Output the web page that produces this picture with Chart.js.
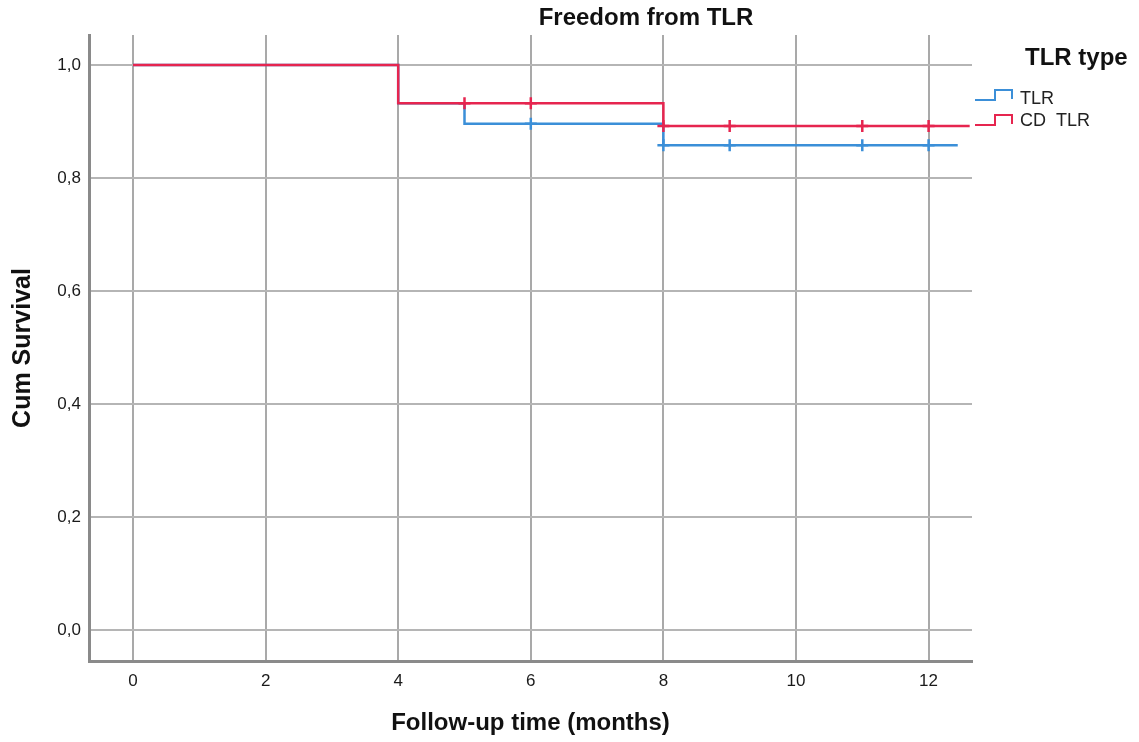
<!DOCTYPE html>
<html>
<head>
<meta charset="utf-8">
<script src="https://cdn.jsdelivr.net/npm/chart.js@4.4.1/dist/chart.umd.min.js"></script>
<style>
html,body{margin:0;padding:0;background:#fff;}
#wrap{width:1139px;height:742px;position:relative;}
</style>
</head>
<body>
<div id="wrap"><canvas id="c" width="1139" height="742"></canvas></div>
<script>
const chartTitle = "Freedom from TLR";
const xTitle = "Follow-up time (months)";
const yTitle = "Cum Survival";
const legendTitle = "TLR type";
const seriesNames = ["TLR", "CD  TLR"];
const xTicks = [0, 2, 4, 6, 8, 10, 12];
const yTicks = [0, 0.2, 0.4, 0.6, 0.8, 1.0];

const tlrTime = [0, 4, 5, 8, 12.44];
const tlrSurv = [1.0, 0.932, 0.896, 0.858, 0.858];
const tlrCensorTime = [6, 8, 9, 11, 12];
const tlrCensorSurv = [0.896, 0.858, 0.858, 0.858, 0.858];

const cdTime = [0, 4, 8, 12.62];
const cdSurv = [1.0, 0.932, 0.892, 0.892];
const cdCensorTime = [5, 6, 8, 9, 11, 12];
const cdCensorSurv = [0.932, 0.932, 0.892, 0.892, 0.892, 0.892];

const blue = "#3b8fd8";
const red = "#e6254f";
const fam = '"Liberation Sans", Arial, sans-serif';

function pts(xs, ys) { return xs.map((x, i) => ({x: x, y: ys[i]})); }

const overlay = {
  id: 'overlay',
  afterDraw(chart) {
    const ctx = chart.ctx;
    ctx.save();
    ctx.fillStyle = '#111';
    ctx.textBaseline = 'middle';
    ctx.textAlign = 'center';
    ctx.font = 'bold 24px ' + fam;
    ctx.fillText(chartTitle, 646, 18);
    ctx.textAlign = 'left';
    ctx.textBaseline = 'alphabetic';
    ctx.fillText(legendTitle, 1025, 65);
    ctx.font = '18px ' + fam;
    ctx.fillStyle = '#222';
    ctx.fillText(seriesNames[0], 1020, 104);
    ctx.fillText(seriesNames[1], 1020, 126);
    ctx.lineWidth = 2;
    ctx.strokeStyle = blue;
    ctx.beginPath();
    ctx.moveTo(975, 100); ctx.lineTo(995, 100); ctx.lineTo(995, 90); ctx.lineTo(1012, 90); ctx.lineTo(1012, 99);
    ctx.stroke();
    ctx.strokeStyle = red;
    ctx.beginPath();
    ctx.moveTo(975, 125); ctx.lineTo(995, 125); ctx.lineTo(995, 115); ctx.lineTo(1012, 115); ctx.lineTo(1012, 124);
    ctx.stroke();
    ctx.restore();
  }
};

new Chart(document.getElementById('c'), {
  type: 'scatter',
  data: {
    datasets: [
      { label: seriesNames[0], data: pts(tlrTime, tlrSurv), showLine: true, stepped: true, order: 3,
        borderColor: blue, borderWidth: 2.5, pointRadius: 0, fill: false },
      { label: seriesNames[0] + ' censored', data: pts(tlrCensorTime, tlrCensorSurv), showLine: false, order: 2,
        pointStyle: 'cross', pointRadius: 6, borderColor: blue, borderWidth: 2.5 },
      { label: seriesNames[1], data: pts(cdTime, cdSurv), showLine: true, stepped: true, order: 1,
        borderColor: red, borderWidth: 2.5, pointRadius: 0, fill: false },
      { label: seriesNames[1] + ' censored', data: pts(cdCensorTime, cdCensorSurv), showLine: false, order: 0,
        pointStyle: 'cross', pointRadius: 6, borderColor: red, borderWidth: 2.5 }
    ]
  },
  options: {
    responsive: false,
    animation: false,
    layout: { padding: { top: 35, right: 167, left: 0, bottom: 0 } },
    plugins: { legend: { display: false }, title: { display: false }, tooltip: { enabled: false } },
    scales: {
      x: {
        type: 'linear', min: -0.664, max: 12.655,
        afterBuildTicks: s => { s.ticks = xTicks.map(v => ({value: v})); },
        afterFit: s => { s.height = 81; },
        grid: { color: '#a9a9a9', lineWidth: 2, drawTicks: false },
        border: { color: '#8a8a8a', width: 3 },
        ticks: { padding: 10, color: '#1a1a1a', font: { size: 17, family: fam } },
        title: { display: true, text: xTitle, color: '#111', padding: { top: 0, bottom: 4 },
          font: { size: 24, weight: 'bold', family: fam } }
      },
      y: {
        type: 'linear', min: -0.055, max: 1.053,
        afterBuildTicks: s => { s.ticks = yTicks.map(v => ({value: v})); },
        afterFit: s => { s.width = 89; },
        grid: { color: '#b5b5b5', lineWidth: 2, drawTicks: false },
        border: { color: '#8a8a8a', width: 3 },
        ticks: { padding: 8, color: '#1a1a1a', font: { size: 17, family: fam },
          callback: v => v.toFixed(1).replace('.', ',') },
        title: { display: true, text: yTitle, color: '#111', padding: { top: 8, bottom: 0 },
          font: { size: 25, weight: 'bold', family: fam } }
      }
    }
  },
  plugins: [overlay]
});
</script>
</body>
</html>
